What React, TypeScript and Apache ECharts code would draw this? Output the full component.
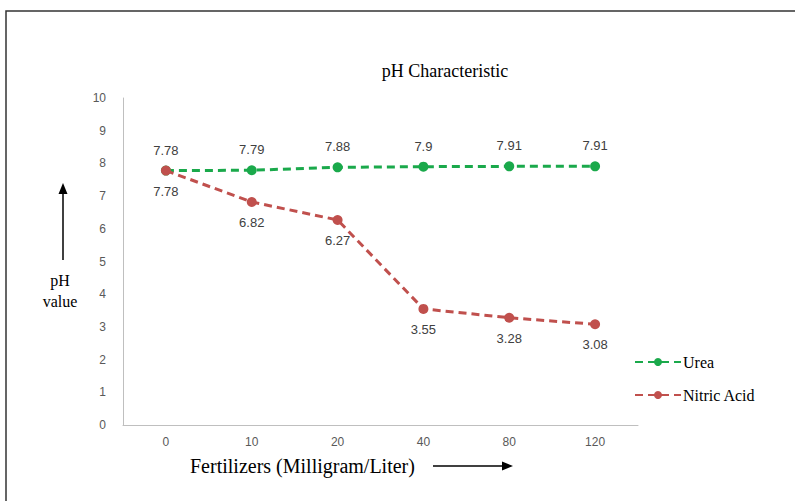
import React, { useEffect, useRef } from "react";
import * as echarts from "echarts";

const categories = ["0", "10", "20", "40", "80", "120"];
const ureaValues = [7.78, 7.79, 7.88, 7.9, 7.91, 7.91];
const nitricValues = [7.78, 6.82, 6.27, 3.55, 3.28, 3.08];
const seriesNames = ["Urea", "Nitric Acid"];
const titleText = "pH Characteristic";
const yAxisName = ["pH", "value"];
const xAxisName = "Fertilizers (Milligram/Liter)";

const GREEN = "#1aa94b";
const RED = "#c0504d";
const SANS = "'Liberation Sans', Arial, sans-serif";
const SERIF = "'Liberation Serif', 'Times New Roman', serif";

export default function App() {
  const ref = useRef<HTMLDivElement>(null);
  useEffect(() => {
    document.body.style.margin = "0";
    const chart = echarts.init(ref.current!, null, { renderer: "svg" });
    const labelStyle = {
      show: true,
      color: "#404040",
      fontFamily: SANS,
      fontSize: 13,
      distance: 9,
    };
    chart.setOption({
      animation: false,
      backgroundColor: "#ffffff",
      title: {
        text: titleText,
        left: 440,
        top: 57,
        textAlign: "center",
        textStyle: { fontFamily: SERIF, fontSize: 18, fontWeight: "normal", color: "#000" },
      },
      grid: { left: 123, right: 157, top: 98, bottom: 76 },
      legend: {
        orient: "vertical",
        left: 629,
        top: 349,
        itemWidth: 46,
        itemHeight: 10,
        itemGap: 17,
        data: seriesNames,
        textStyle: { fontFamily: SERIF, fontSize: 16, color: "#000", padding: [0, 0, 0, -3] },
      },
      xAxis: {
        type: "category",
        data: categories,
        boundaryGap: true,
        axisLine: { show: true, lineStyle: { color: "#bfbfbf", width: 1 } },
        axisTick: { show: false },
        axisLabel: { color: "#595959", fontFamily: SANS, fontSize: 12, margin: 11 },
        splitLine: { show: false },
      },
      yAxis: {
        type: "value",
        min: 0,
        max: 10,
        interval: 1,
        axisLine: { show: true, lineStyle: { color: "#bfbfbf", width: 1 } },
        axisTick: { show: false },
        axisLabel: { color: "#595959", fontFamily: SANS, fontSize: 12, margin: 17 },
        splitLine: { show: false },
      },
      series: [
        {
          name: seriesNames[0],
          type: "line",
          data: ureaValues,
          symbol: "circle",
          symbolSize: 10,
          itemStyle: { color: GREEN },
          lineStyle: { color: GREEN, width: 3, type: [8, 5] },
          label: { ...labelStyle, position: "top" },
          z: 3,
        },
        {
          name: seriesNames[1],
          type: "line",
          data: nitricValues,
          symbol: "circle",
          symbolSize: 10,
          itemStyle: { color: RED },
          lineStyle: { color: RED, width: 3, type: [8, 5] },
          label: { ...labelStyle, position: "bottom" },
          z: 4,
        },
      ],
      graphic: [
        {
          type: "rect",
          shape: { x: 6, y: 11, width: 820, height: 520 },
          style: { fill: "none", stroke: "#333", lineWidth: 1.5 },
          silent: true,
        },
        {
          type: "text",
          x: 60,
          y: 270,
          style: {
            text: yAxisName.join("\n"),
            align: "center",
            verticalAlign: "top",
            fontFamily: SERIF,
            fontSize: 16,
            lineHeight: 21,
            fill: "#000",
          },
        },
        {
          type: "line",
          shape: { x1: 63, y1: 260, x2: 63, y2: 192 },
          style: { stroke: "#000", lineWidth: 1.5 },
        },
        {
          type: "polygon",
          shape: { points: [[58.5, 194], [67.5, 194], [63, 183]] },
          style: { fill: "#000" },
        },
        {
          type: "text",
          x: 190,
          y: 466,
          style: {
            text: xAxisName,
            align: "left",
            verticalAlign: "middle",
            fontFamily: SERIF,
            fontSize: 20,
            fill: "#000",
          },
        },
        {
          type: "line",
          shape: { x1: 433, y1: 466, x2: 503, y2: 466 },
          style: { stroke: "#000", lineWidth: 1.5 },
        },
        {
          type: "polygon",
          shape: { points: [[502, 461.5], [502, 470.5], [513, 466]] },
          style: { fill: "#000" },
        },
      ],
    });
    return () => chart.dispose();
  }, []);
  return (
    <div
      ref={ref}
      style={{ position: "fixed", left: 0, top: 0, width: 795, height: 501 }}
    />
  );
}
